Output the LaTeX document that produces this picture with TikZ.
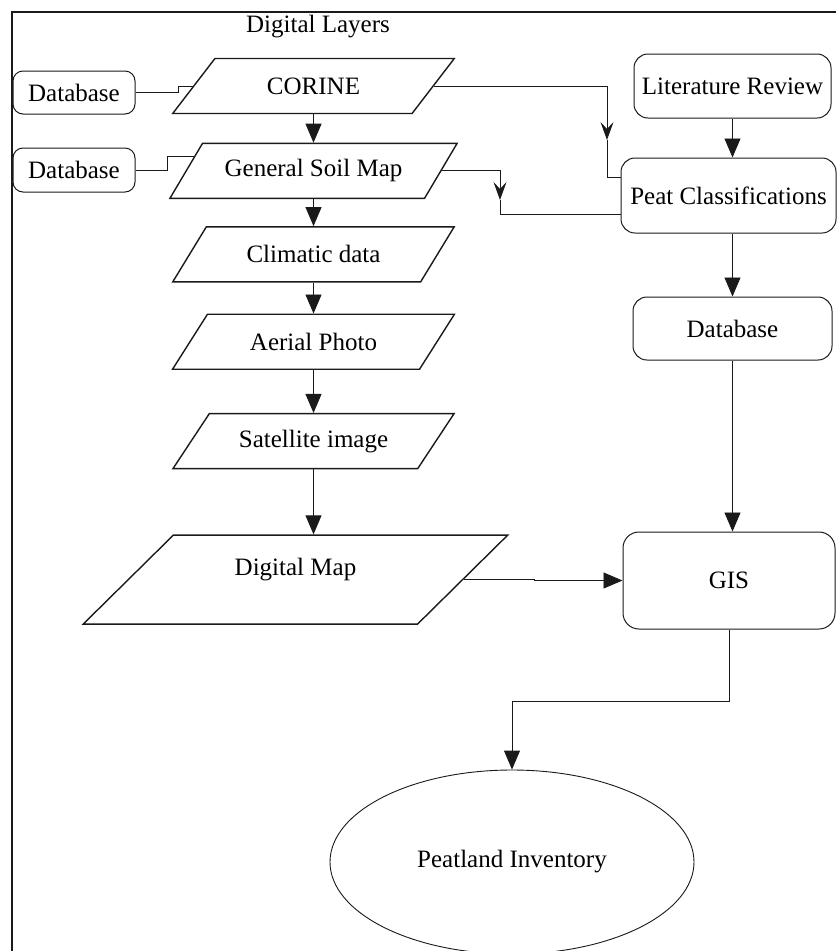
\documentclass[tikz,border=0pt]{standalone}
\usepackage{fontspec}
\setmainfont{Liberation Serif}
\usetikzlibrary{arrows.meta, positioning, shapes.geometric, calc}
\definecolor{cline}{HTML}{1A1A1A}
\tikzset{
  layer/.style={trapezium, trapezium left angle=45, trapezium right angle=135, trapezium stretches=true, draw=cline, fill=white, line width=1.4pt, inner sep=2pt, minimum width=282pt, minimum height=55pt},
  rbox/.style={draw=cline, fill=white, rounded corners=#1, line width=1pt, inner sep=2pt, align=center},
  rbox/.default=12pt,
  arrow/.style={-{Triangle[length=19pt, width=16pt]}, draw=cline, line width=0.9pt},
  midtip/.style={-{Stealth[length=18pt, width=13pt, inset=7pt]}, draw=cline, line width=0.9pt},
  link/.style={draw=cline, line width=0.9pt},
}

\begin{document}
\begin{tikzpicture}[x=1pt, y=-1pt, every node/.append style={font=\fontsize{25}{30}\selectfont}]
  \useasboundingbox (0,0) rectangle (836,951);
  \draw[line width=1.4pt, draw=cline] (12,951) -- (12,12) -- (836,12);

  \node (title) at (318,27) {Digital Layers};

  % digital layers
  \node[layer] (corine) at (313.5,86) {CORINE};
  \node[layer, minimum width=288pt, below=28.5pt of corine] (gsm) {General Soil Map};
  \node[layer, below=27pt of gsm] (clim) {Climatic data};
  \node[layer, below=31pt of clim] (aerial) {Aerial Photo};
  \node[layer, below=43pt of aerial] (sat) {Satellite image};
  \node[layer, minimum width=425pt, minimum height=89pt, text depth=25pt, below=65pt of sat, xshift=-18pt] (dmap) {Digital Map};

  % databases on the left
  \node[rbox=10pt, minimum width=122pt, minimum height=43pt] (dbA) at (74,92.5) {Database};
  \node[rbox=10pt, minimum width=122pt, minimum height=44pt] (dbB) at (74,170) {Database};

  % right column
  \node[rbox=14pt, minimum width=197pt, minimum height=64pt] (lit) at (732.5,86) {Literature Review};
  \node[rbox=14pt, minimum width=215pt, minimum height=75pt] (peat) at (728.5,195.5) {Peat Classifications};
  \node[rbox=14pt, minimum width=199pt, minimum height=63pt] (dbC) at (732.5,328.5) {Database};
  \node[rbox=16pt, minimum width=212pt, minimum height=97pt] (gis) at (729,580.5) {GIS};
  \node[ellipse, draw=cline, line width=0.9pt, minimum width=364pt, minimum height=184pt, inner sep=0pt] (inv) at (512,862) {Peatland Inventory};

  % turning points of the two side links
  \coordinate (tipA) at (607,140);
  \coordinate (tipB) at (500,200);

  % links
  \draw[link] (dbA.east) -- ++(43,0) |- (corine.west);
  \draw[link] (dbB.east) -- ++(32,0) |- ($(gsm.bottom left corner)!0.76!(gsm.top left corner)$);
  \foreach \a/\b in {corine/gsm, gsm/clim, clim/aerial, aerial/sat, sat/dmap}
    \draw[arrow] (\a.south) -- (\a.south |- \b.north);
  \draw[midtip] (corine.east) -| (tipA);
  \draw[link] (tipA) |- ([yshift=18.5pt]peat.west);
  \draw[midtip] (gsm.east) -| (tipB);
  \draw[link] (tipB) |- ([yshift=-18.5pt]peat.west);
  \draw[arrow] (lit.south) -- (lit.south |- peat.north);
  \draw[arrow] (dbC.north |- peat.south) -- (dbC.north);
  \draw[arrow] (dbC.south) -- (dbC.south |- gis.north);
  \draw[arrow] (dmap.east) -- ++(71,0) |- (gis.west);
  \draw[arrow] (gis.south) -- ++(0,72) -| (inv.north);
\end{tikzpicture}
\end{document}
